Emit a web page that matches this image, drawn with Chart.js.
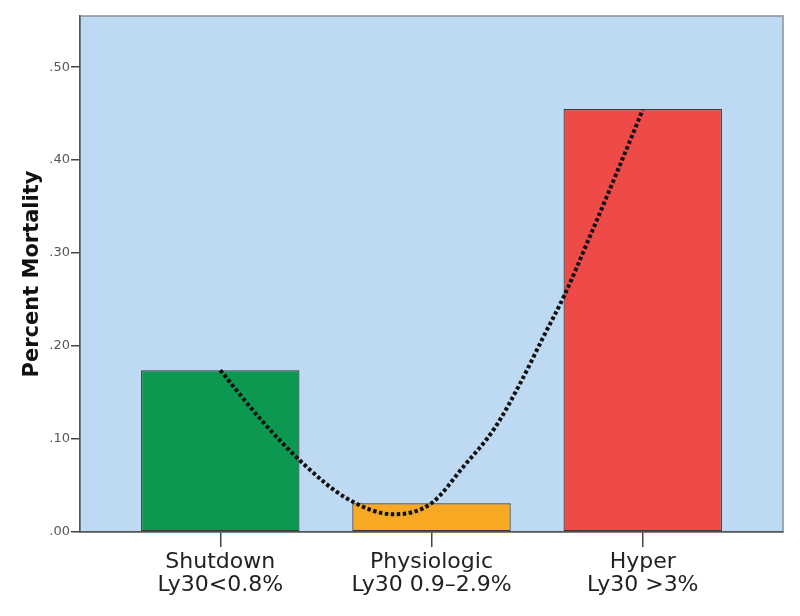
<!DOCTYPE html>
<html>
<head>
<meta charset="utf-8">
<script src="https://cdn.jsdelivr.net/npm/chart.js@4"></script>
<style>
  html, body { margin: 0; padding: 0; background: #fff; }
  #wrap { width: 800px; height: 616px; }
</style>
</head>
<body>
<div id="wrap"><canvas id="chart"></canvas></div>
<script>
// groups and their mortality
const categories = [['Shutdown', 'Ly30<0.8%'], ['Physiologic', 'Ly30 0.9\u20132.9%'], ['Hyper', 'Ly30 >3%']];
const mortality = [0.174, 0.031, 0.455];
const barColors = ['#0c9851', '#f9a823', '#ee4a48'];

// dotted fit line (x in category positions)
const curveX = [0, 0.2, 0.4, 0.6, 0.82, 1.0, 1.15, 1.3, 1.42, 1.53, 1.63, 1.75, 1.88, 2.0];
const curveY = [0.174, 0.119, 0.072, 0.036, 0.019, 0.031, 0.07, 0.112, 0.16, 0.21, 0.255, 0.318, 0.388, 0.454];

const yTicks = [0, 0.1, 0.2, 0.3, 0.4, 0.5];
const xTicks = [0, 1, 2];

// light blue plot background + frame
const plotBg = {
    id: 'plotBg',
    beforeDraw(chart) {
        const { ctx, chartArea: a } = chart;
        ctx.save();
        ctx.fillStyle = '#bedaf3';
        ctx.fillRect(a.left, a.top, a.right - a.left, a.bottom - a.top);
        ctx.strokeStyle = '#8a8f96';
        ctx.lineWidth = 1.5;
        ctx.strokeRect(a.left, a.top, a.right - a.left, a.bottom - a.top);
        ctx.restore();
    }
};

const ctx = document.getElementById('chart').getContext('2d');
new Chart(ctx, {
    data: {
        datasets: [
            {
                type: 'line',
                data: curveX.map((x, i) => ({ x: x, y: curveY[i] })),
                borderColor: '#111',
                borderWidth: 4,
                borderDash: [3.5, 2.5],
                borderCapStyle: 'butt',
                pointRadius: 0,
                cubicInterpolationMode: 'monotone',
                order: 0
            },
            {
                type: 'bar',
                data: mortality.map((v, i) => ({ x: i, y: v })),
                backgroundColor: barColors,
                borderColor: '#3a3a3a',
                borderWidth: 1.2,
                borderSkipped: false,
                categoryPercentage: 1,
                barPercentage: 0.75,
                order: 1
            }
        ]
    },
    options: {
        responsive: true,
        maintainAspectRatio: false,
        animation: false,
        layout: { padding: { top: 16, right: 17, left: 0, bottom: 0 } },
        plugins: {
            legend: { display: false },
            tooltip: { enabled: false }
        },
        scales: {
            x: {
                type: 'linear',
                min: -0.664,
                max: 2.664,
                offset: false,
                afterBuildTicks: s => { s.ticks = xTicks.map(v => ({ value: v })); },
                afterFit: s => { s.height = 84; },
                grid: { offset: false, drawOnChartArea: false, tickLength: 15, color: '#444', lineWidth: 1.5 },
                border: { color: '#555', width: 1.5 },
                ticks: {
                    padding: 4,
                    color: '#222',
                    font: { family: 'DejaVu Sans', size: 22, lineHeight: 1.05 },
                    callback: v => categories[v]
                }
            },
            y: {
                min: 0,
                max: 0.555,
                afterBuildTicks: s => { s.ticks = yTicks.map(v => ({ value: v })); },
                afterFit: s => { s.width = 80; },
                grid: { drawOnChartArea: false, tickLength: 9, color: '#444', lineWidth: 1.5 },
                border: { color: '#555', width: 1.5 },
                ticks: {
                    padding: 1,
                    color: '#555',
                    font: { family: 'DejaVu Sans', size: 13 },
                    callback: v => v.toFixed(2).replace(/^0/, '')
                },
                title: {
                    display: true,
                    text: 'Percent Mortality',
                    color: '#111',
                    font: { family: 'DejaVu Sans', size: 21, weight: 'bold', lineHeight: 1.2 },
                    padding: { top: 20, bottom: 0 }
                }
            }
        }
    },
    plugins: [plotBg]
});
</script>
</body>
</html>
